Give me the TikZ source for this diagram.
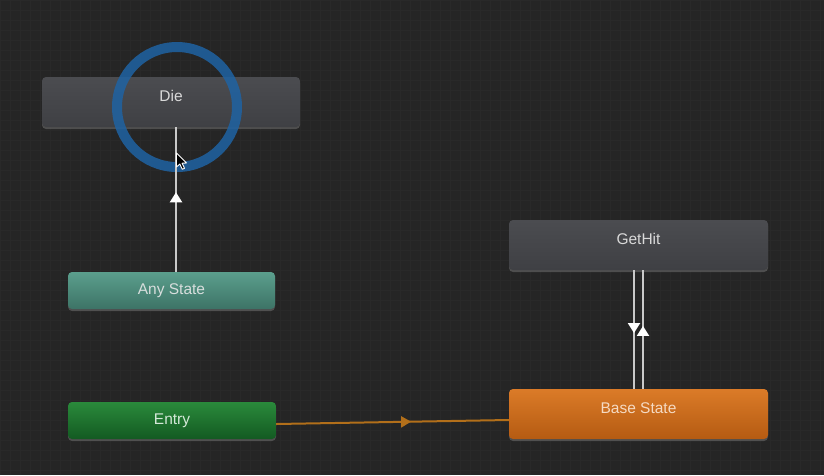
\documentclass[tikz,border=0pt]{standalone}
\usepackage{fontspec}
\setmainfont{Liberation Sans}
\usetikzlibrary{arrows.meta,decorations.markings,shadows}
\definecolor{bg}{HTML}{252525}
\definecolor{gridc}{HTML}{292929}
\definecolor{grayT}{HTML}{4B4C50}
\definecolor{grayB}{HTML}{3F4044}
\definecolor{tealT}{HTML}{5B9F8D}
\definecolor{tealB}{HTML}{3D7366}
\definecolor{greenT}{HTML}{2A8A3B}
\definecolor{greenB}{HTML}{135A22}
\definecolor{orangeT}{HTML}{DB7B28}
\definecolor{orangeB}{HTML}{B55B12}
\definecolor{linec}{HTML}{C9C9C9}
\definecolor{entryline}{HTML}{B26F1A}
\definecolor{ringc}{HTML}{1F63A3}
\tikzset{
  statefont/.style={font=\fontsize{15.5}{18}\selectfont},
  statebox/.style={rounded corners=4pt, inner sep=0pt, statefont,
    drop shadow={opacity=0.45, shadow xshift=0pt, shadow yshift=-2pt}},
  graystate/.style={statebox, top color=grayT, bottom color=grayB, text=black!15!white,
    minimum width=258pt, minimum height=50pt},
  tealstate/.style={statebox, top color=tealT, bottom color=tealB, text=black!10!white!90!tealT,
    minimum width=207pt, minimum height=37pt},
  greenstate/.style={statebox, top color=greenT, bottom color=greenB, text=white!80!greenT,
    minimum width=208pt, minimum height=37pt},
  orangestate/.style={statebox, top color=orangeT, bottom color=orangeB, text=white!72!orangeT,
    minimum width=259pt, minimum height=50pt},
  toplabel/.style={yshift=6pt, statefont},
  trans/.style={draw=linec, line width=2pt},
  midarrow/.style={postaction={decorate}, decoration={markings,
    mark=at position #1 with {\arrow[white]{Triangle[width=12pt,length=10pt]}}}},
}
\begin{document}
\begin{tikzpicture}[x=1pt,y=-1pt]
\useasboundingbox (0,0) rectangle (824,475);
\fill[bg] (0,0) rectangle (824,475);
\draw[gridc, line width=0.6pt, step=10pt] (0,0) grid (824,475);

\node[graystate] (die) at (171,102) {};
\node[toplabel, text=black!15!white] (dietext) at (die.center) {Die};
\node[graystate, minimum width=259pt] (gethit) at (638.5,245) {};
\node[toplabel, text=black!15!white] (gethittext) at (gethit.center) {GetHit};
\node[tealstate] (any) at (171.5,290.5) {Any State};
\node[greenstate] (entry) at (172,420.5) {Entry};
\node[orangestate] (base) at (638.5,414) {};
\node[toplabel, text=white!72!orangeT] (basetext) at (base.center) {Base State};

% highlight ring
\draw[ringc, line width=10pt, opacity=0.85] (177,107) circle[radius=60];

% transitions
\draw[trans, midarrow=0.55] ([xshift=4.5pt]any.north) -- ([xshift=5pt]die.south);
\draw[trans, midarrow=0.53] ([xshift=-4.5pt]gethit.south) -- ([xshift=-4.5pt]base.north);
\draw[trans, midarrow=0.53] ([xshift=4.5pt]base.north) -- ([xshift=4.5pt]gethit.south);
\coordinate (baseleft) at ([yshift=-6pt]base.west);
\draw[draw=entryline, line width=2pt, postaction={decorate}, decoration={markings,
    mark=at position 0.58 with {\arrow[entryline]{Triangle[width=11pt,length=10pt]}}}]
  ([yshift=-3.5pt]entry.east) -- (baseleft);

% mouse cursor
\coordinate (cur) at (176.5,153);
\draw[white, fill=black, line width=0.9pt, line join=round, shift={(cur)}]
  (0,0) -- (0,14) -- (3.3,11) -- (5.8,16.3) -- (8,15.3) -- (5.6,10.2) -- (10,10) -- cycle;
\end{tikzpicture}
\end{document}
